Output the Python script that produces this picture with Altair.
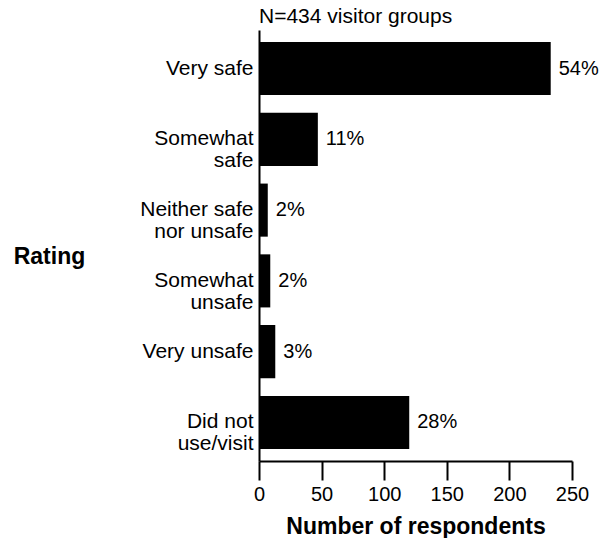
import altair as alt
import pandas as pd

categories = ["Very safe", "Somewhat|safe", "Neither safe|nor unsafe", "Somewhat|unsafe", "Very unsafe", "Did not|use/visit"]
counts = [233, 47, 7, 9, 13, 120]
percents = ["54%", "11%", "2%", "2%", "3%", "28%"]
x_ticks = [0, 50, 100, 150, 200, 250]
subtitle = "N=434 visitor groups"

df = pd.DataFrame({"cat": categories, "n": counts, "pct": percents})

FONT = "Liberation Sans"

y_enc = alt.Y(
    "cat:N",
    sort=categories,
    scale=alt.Scale(paddingInner=0.25, paddingOuter=0.17),
    axis=alt.Axis(
        title="Rating",
        titleAngle=0,
        titleX=-210,
        titleY=226,
        titleAlign="center",
        titleBaseline="middle",
        titleFont=FONT,
        titleFontSize=23,
        titleFontWeight="bold",
        titleColor="black",
        labelExpr="split(datum.label, '|')",
        labelFont=FONT,
        labelFontSize=21,
        labelColor="black",
        labelLineHeight=22,
        labelPadding=6,
        labelAlign="right",
        ticks=False,
        domainColor="black",
        domainWidth=2,
        grid=False,
    ),
)

x_enc = alt.X(
    "n:Q",
    scale=alt.Scale(domain=[0, 250], nice=False),
    axis=alt.Axis(
        title="Number of respondents",
        values=x_ticks,
        titleFont=FONT,
        titleFontSize=23,
        titleFontWeight="bold",
        titleColor="black",
        titleY=72,
        titleBaseline="alphabetic",
        labelFont=FONT,
        labelFontSize=20,
        labelColor="black",
        labelPadding=4,
        labelFlush=False,
        tickSize=19,
        tickWidth=2,
        tickColor="black",
        domainColor="black",
        domainWidth=2,
        grid=False,
    ),
)

bars = alt.Chart(df).mark_bar(color="black").encode(x=x_enc, y=y_enc)

labels = alt.Chart(df).mark_text(
    align="left", baseline="middle", dx=8, font=FONT, fontSize=20, color="black"
).encode(x="n:Q", y=alt.Y("cat:N", sort=categories), text="pct:N")

top_note = alt.Chart(pd.DataFrame({"t": [subtitle]})).mark_text(
    align="left", baseline="alphabetic", font=FONT, fontSize=21, color="black"
).encode(x=alt.value(0), y=alt.value(-7), text="t:N")

chart = (
    alt.layer(bars, labels, top_note)
    .properties(
        width=313,
        height=431,
        autosize=alt.AutoSizeParams(type="none"),
        padding={"left": 251, "top": 22, "right": 28, "bottom": 77},
    )
    .configure_view(stroke=None)
)

chart.save("out.html", embed_options={"renderer": "svg", "actions": False})
